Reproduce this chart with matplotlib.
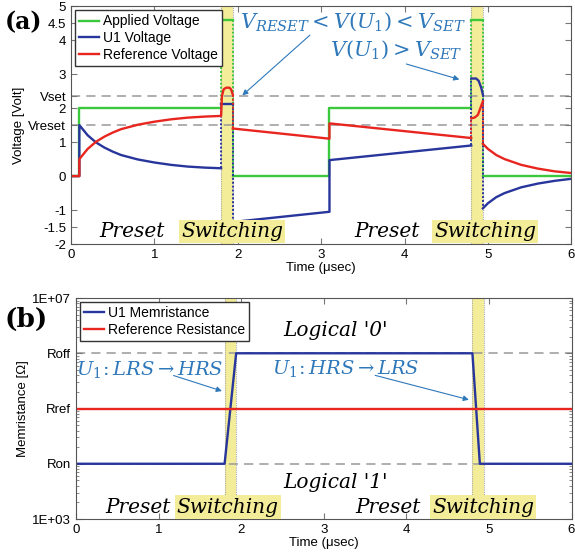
import numpy as np
import matplotlib
matplotlib.use("Agg")
import matplotlib.pyplot as plt

plt.rcParams['font.family'] = ['Liberation Sans', 'DejaVu Sans']
plt.rcParams['mathtext.fontset'] = 'dejavuserif'

# ---- data (a): voltages ----
t_applied = [0, 0.1, 0.1, 1.8, 1.8, 1.94, 1.94, 3.1, 3.1, 4.8, 4.8, 4.94, 4.94, 6]
v_applied = [0, 0, 2, 2, 4.6, 4.6, 0, 0, 2, 2, 4.6, 4.6, 0, 0]

t_u1 = [0, 0.1, 0.1, 0.2, 0.3, 0.4, 0.5, 0.6, 0.8, 1.0, 1.2, 1.4, 1.6, 1.8,
        1.8, 1.94,
        1.94, 3.1, 3.1, 4.8,
        4.8, 4.86, 4.89, 4.92, 4.94,
        4.94, 5.0, 5.1, 5.2, 5.4, 5.6, 5.8, 6.0]
v_u1 = [0, 0, 1.5, 1.2, 0.99, 0.84, 0.72, 0.62, 0.49, 0.40, 0.33, 0.28, 0.25, 0.23,
        2.13, 2.13,
        -1.35, -1.05, 0.47, 0.9,
        2.87, 2.87, 2.8, 2.6, 2.4,
        -0.95, -0.8, -0.62, -0.5, -0.33, -0.22, -0.14, -0.08]

t_ref = [0, 0.1, 0.1, 0.2, 0.3, 0.4, 0.5, 0.6, 0.8, 1.0, 1.2, 1.4, 1.6, 1.8,
         1.81, 1.83, 1.86, 1.9, 1.92, 1.94,
         1.94, 3.1, 3.1, 4.8,
         4.8, 4.84, 4.88, 4.91, 4.94,
         4.94, 5.0, 5.1, 5.2, 5.4, 5.6, 5.8, 6.0]
v_ref = [0, 0, 0.5, 0.8, 1.01, 1.16, 1.28, 1.38, 1.51, 1.6, 1.67, 1.72, 1.75, 1.77,
         2.35, 2.55, 2.6, 2.6, 2.55, 2.4,
         1.4, 1.1, 1.55, 1.12,
         1.7, 1.72, 1.8, 2.0, 2.2,
         0.95, 0.8, 0.62, 0.5, 0.33, 0.22, 0.14, 0.09]

v_set = 2.35
v_reset = 1.5
yticks_a = [-2, -1.5, -1, 0, 1, v_reset, 2, v_set, 3, 4, 4.5, 5]
ylabels_a = ['-2', '-1.5', '-1', '0', '1', 'Vreset', '2', 'Vset', '3', '4', '4.5', '5']

# ---- data (b): memristance ----
t_mem = [0, 1.8, 1.94, 4.8, 4.89, 6]
r_mem = [1e4, 1e4, 1e6, 1e6, 1e4, 1e4]
t_rref = [0, 6]
r_rref = [1e5, 1e5]
r_on, r_ref, r_off = 1e4, 1e5, 1e6
yticks_b = [1e3, r_on, r_ref, r_off, 1e7]
ylabels_b = ['1E+03', 'Ron', 'Rref', 'Roff', '1E+07']

bands = [(1.8, 1.94), (4.8, 4.94)]
band_edges = [b for pair in bands for b in pair]

GREEN = '#3cc83c'
BLUE = '#28359c'
RED = '#e8261f'
YELLOW = '#f3ec98'
TXTBLUE = '#2f78ba'
GREY = '#999999'


def draw(ax, t, v, color, label=None):
    # solid trace, dotted jumps at switching band edges
    t = np.asarray(t, float)
    v = np.asarray(v, float)
    start = 0
    for i in range(len(t) - 1):
        if t[i] == t[i + 1] and t[i] in band_edges:
            ax.plot(t[start:i + 1], v[start:i + 1], color=color, lw=1.7, solid_joinstyle='round')
            ax.plot(t[i:i + 2], v[i:i + 2], color=color, lw=1.4, ls=(0, (1, 1)))
            start = i + 1
    ax.plot(t[start:], v[start:], color=color, lw=1.7, label=label)


def style(ax):
    ax.tick_params(direction='in', top=True, right=True, labelsize=9.5, color='#777777', length=4)
    ax.tick_params(which='minor', direction='in', right=True, color='#777777')
    for s in ax.spines.values():
        s.set_color('#555555')
        s.set_linewidth(0.8)
    for a, b in bands:
        ax.axvspan(a, b, color=YELLOW, zorder=0, lw=0)
        ax.axvline(a, color='#aaaaaa', ls=(0, (1, 1)), lw=0.8, zorder=0.5)
        ax.axvline(b, color='#aaaaaa', ls=(0, (1, 1)), lw=0.8, zorder=0.5)


def phase_labels(ax, xs_preset, xs_switch, y):
    for x in xs_preset:
        ax.text(x, y, 'Preset', fontsize=14.5, family='DejaVu Serif', style='italic',
                ha='center', va='center')
    for x in xs_switch:
        ax.text(x, y, 'Switching', fontsize=14.5, family='DejaVu Serif', style='italic',
                ha='center', va='center',
                bbox=dict(boxstyle='square,pad=0.1', fc=YELLOW, ec='none'))


fig = plt.figure(figsize=(5.75, 5.56), dpi=100)

# ---------------- (a) ----------------
ax1 = fig.add_axes([0.1235, 0.561, 0.870, 0.428])
style(ax1)
ax1.axhline(v_set, color=GREY, ls=(0, (6, 4)), lw=1.1, zorder=1)
ax1.axhline(v_reset, color=GREY, ls=(0, (6, 4)), lw=1.1, zorder=1)
draw(ax1, t_applied, v_applied, GREEN, 'Applied Voltage')
draw(ax1, t_u1, v_u1, BLUE, 'U1 Voltage')
draw(ax1, t_ref, v_ref, RED, 'Reference Voltage')
ax1.set_xlim(0, 6)
ax1.set_ylim(-2, 5)
ax1.set_yticks(yticks_a)
ax1.set_yticklabels(ylabels_a)
ax1.set_xticks(range(7))
ax1.set_xlabel('Time (\u03bcsec)', fontsize=9.5, labelpad=1)
ax1.set_ylabel('Voltage [Volt]', fontsize=9.5, labelpad=2)
ax1.legend(loc='upper left', fontsize=10, handlelength=1.4, borderpad=0.3,
           labelspacing=0.2, handletextpad=0.3, borderaxespad=0.3,
           fancybox=False, edgecolor='#333333', framealpha=1)

ax1.text(2.03, 4.53, r'$V_{RESET} < V(U_1) < V_{SET}$', color=TXTBLUE, fontsize=15,
         ha='left', va='center')
ax1.text(3.11, 3.72, r'$V(U_1) > V_{SET}$', color=TXTBLUE, fontsize=15,
         ha='left', va='center')
ax1.annotate('', xy=(2.03, 2.32), xytext=(2.89, 4.2),
             arrowprops=dict(arrowstyle='-|>', color=TXTBLUE, lw=0.8, mutation_scale=8))
ax1.annotate('', xy=(4.69, 2.82), xytext=(3.99, 3.32),
             arrowprops=dict(arrowstyle='-|>', color=TXTBLUE, lw=0.8, mutation_scale=8))
phase_labels(ax1, [0.73, 3.79], [1.93, 4.97], -1.63)

# ---------------- (b) ----------------
ax2 = fig.add_axes([0.132, 0.0665, 0.862, 0.3975])
style(ax2)
ax2.set_yscale('log')
ax2.axhline(r_off, color=GREY, ls=(0, (6, 4)), lw=1.1, zorder=1)
ax2.axhline(r_on, color=GREY, ls=(0, (6, 4)), lw=1.1, zorder=1)
ax2.plot(t_mem, r_mem, color=BLUE, lw=1.7, label='U1 Memristance')
ax2.plot(t_rref, r_rref, color=RED, lw=1.7, label='Reference Resistance')
ax2.set_xlim(0, 6)
ax2.set_ylim(1e3, 1e7)
ax2.set_yticks(yticks_b)
ax2.set_yticklabels(ylabels_b)
ax2.set_xticks(range(7))
ax2.set_xlabel('Time (\u03bcsec)', fontsize=9.5, labelpad=1)
ax2.set_ylabel('Memristance [\u03a9]', fontsize=9.5, labelpad=2)
ax2.legend(loc='upper left', fontsize=10, handlelength=1.4, borderpad=0.3,
           labelspacing=0.2, handletextpad=0.3, borderaxespad=0.3,
           fancybox=False, edgecolor='#333333', framealpha=1)

ax2.text(3.14, 2.6e6, "Logical '0'", fontsize=14.5, family='DejaVu Serif', style='italic',
         ha='center', va='center')
ax2.text(3.14, 4.5e3, "Logical '1'", fontsize=14.5, family='DejaVu Serif', style='italic',
         ha='center', va='center')
ax2.text(0.89, 5e5, r'$U_1\!: LRS \rightarrow HRS$', color=TXTBLUE, fontsize=14,
         ha='center', va='center')
ax2.text(3.26, 5.4e5, r'$U_1\!: HRS \rightarrow LRS$', color=TXTBLUE, fontsize=14,
         ha='center', va='center')
ax2.annotate('', xy=(1.80, 2.0e5), xytext=(1.15, 4.1e5),
             arrowprops=dict(arrowstyle='-|>', color=TXTBLUE, lw=0.8, mutation_scale=8))
ax2.annotate('', xy=(4.79, 1.4e5), xytext=(3.59, 4.1e5),
             arrowprops=dict(arrowstyle='-|>', color=TXTBLUE, lw=0.8, mutation_scale=8))
phase_labels(ax2, [0.75, 3.78], [1.84, 4.93], 1.65e3)

fig.text(0.008, 0.96, '(a)', fontsize=17, fontweight='bold', family='DejaVu Serif',
         va='center', ha='left')
fig.text(0.007, 0.426, '(b)', fontsize=19, fontweight='bold', family='DejaVu Serif',
         va='center', ha='left')

fig.savefig('out.png', dpi=100)
